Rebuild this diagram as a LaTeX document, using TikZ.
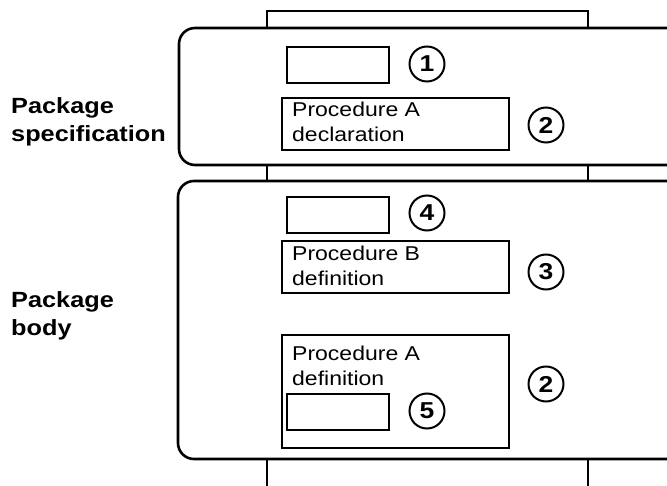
\documentclass[tikz,border=0pt]{standalone}
\usepackage{fontspec}
\setmainfont{Liberation Sans}
\newfontfamily\widesans[FakeStretch=1.15]{Liberation Sans}
\begin{document}
\begin{tikzpicture}[x=1pt,y=-1pt,
  panel/.style={draw, line width=2.6pt, rounded corners=16pt, fill=white},
  backing/.style={draw, line width=2pt},
  slot/.style={draw, line width=2.4pt, fill=white, anchor=north west, inner sep=0pt},
  numcirc/.style={circle, draw, line width=2pt, minimum size=35pt, inner sep=0pt,
    font=\widesans\bfseries\fontsize{23}{23}\selectfont},
  side/.style={anchor=north west, align=left, inner sep=0pt,
    font=\widesans\bfseries\fontsize{22}{28}\selectfont},
  inner/.style={anchor=north west, align=left, inner sep=0pt,
    font=\widesans\fontsize{20}{25}\selectfont}]

\useasboundingbox (0,0) rectangle (667,486);
\fill[white] (0,0) rectangle (667,486);

\begin{scope}
  \clip (0,0) rectangle (667,486);
  % long strip running behind both panels
  \draw[backing] (267,11) rectangle (588,520);
  % specification panel and body panel
  \path[panel] (179,28) rectangle (690,165);
  \path[panel] (178,181) rectangle (690,459);
\end{scope}

% side labels
\node[side] (spec) at (11,97) {Package\\specification};
\node[side] (body) at (11,291) {Package\\body};

% specification contents
\node[slot, minimum width=102pt, minimum height=36pt] (s1) at (286,46) {};
\node[numcirc] (n1) at (427,64) {1};
\node[slot, minimum width=227pt, minimum height=52pt] (decA) at (281,97) {};
\node[inner] (decAtxt) at (292,101.5) {Procedure A\\declaration};
\node[numcirc] (n2a) at (546,125) {2};

% body contents
\node[slot, minimum width=102pt, minimum height=36pt] (s4) at (286,196) {};
\node[numcirc] (n4) at (427,213) {4};
\node[slot, minimum width=227pt, minimum height=52pt] (defB) at (281,240) {};
\node[inner] (defBtxt) at (292,245.5) {Procedure B\\definition};
\node[numcirc] (n3) at (546,272) {3};

\node[slot, minimum width=227pt, minimum height=113pt] (defA) at (281,334) {};
\node[inner] (defAtxt) at (292,345.5) {Procedure A\\definition};
\node[slot, minimum width=102pt, minimum height=36pt] (s5) at (286,393) {};
\node[numcirc] (n5) at (427,411) {5};
\node[numcirc] (n2b) at (546,384) {2};
\end{tikzpicture}
\end{document}
